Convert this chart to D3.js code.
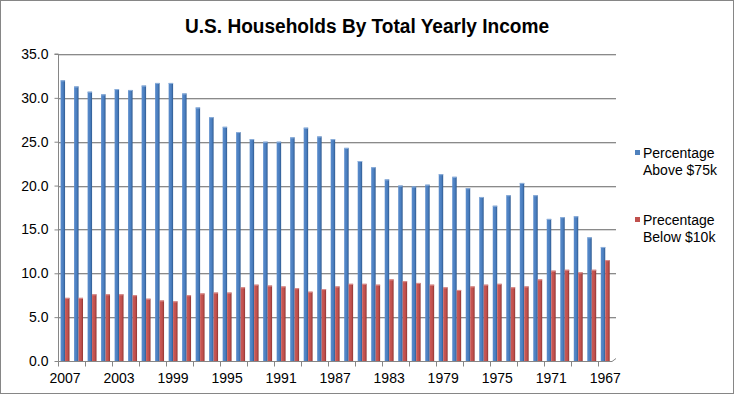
<!DOCTYPE html>
<html><head><meta charset="utf-8">
<script src="https://cdn.jsdelivr.net/npm/d3@7"></script>
<style>
html,body{margin:0;padding:0;background:#fff;}
svg{display:block;font-family:"Liberation Sans",Arial,sans-serif;}
</style></head>
<body>
<svg id="c" width="734" height="394"></svg>
<script>
const years = [2007,2006,2005,2004,2003,2002,2001,2000,1999,1998,1997,1996,1995,1994,1993,1992,1991,1990,1989,1988,1987,1986,1985,1984,1983,1982,1981,1980,1979,1978,1977,1976,1975,1974,1973,1972,1971,1970,1969,1968,1967];
const above75k = [32.0,31.3,30.7,30.4,31.0,30.9,31.4,31.7,31.7,30.5,28.9,27.8,26.7,26.1,25.3,25.0,25.0,25.5,26.6,25.6,25.3,24.3,22.8,22.1,20.7,20.0,19.9,20.1,21.3,21.0,19.7,18.7,17.7,18.9,20.3,18.9,16.2,16.4,16.5,14.1,13.0];
const below10k = [7.2,7.2,7.6,7.6,7.6,7.5,7.1,6.9,6.8,7.5,7.7,7.8,7.8,8.4,8.7,8.6,8.5,8.3,7.9,8.2,8.5,8.8,8.8,8.7,9.3,9.1,8.9,8.7,8.4,8.1,8.5,8.7,8.8,8.4,8.5,9.3,10.3,10.4,10.1,10.4,11.5];
const seriesNames = [["Percentage","Above $75k"],["Precentage","Below $10k"]];
const yTicks = [0,5,10,15,20,25,30,35];
const xLabelYears = [2007,2003,1999,1995,1991,1987,1983,1979,1975,1971,1967];
const title = "U.S. Households By Total Yearly Income";

const svg = d3.select("#c");
const L = 58.3, R = 612, GR = 616, T = 54, B = 361;

// border
svg.append("rect").attr("x",0.5).attr("y",0.5).attr("width",733).attr("height",393)
  .attr("fill","#fff").attr("stroke","#868686");

const defs = svg.append("defs");
function grad(id, c1, c2, c3){
  const g = defs.append("linearGradient").attr("id",id).attr("x1","0").attr("x2","1").attr("y1","0").attr("y2","0");
  g.append("stop").attr("offset","0").attr("stop-color",c1);
  g.append("stop").attr("offset","0.6").attr("stop-color",c2);
  g.append("stop").attr("offset","1").attr("stop-color",c3);
}
grad("gb","#5a8ccc","#4a7ebf","#2f5a8f");
grad("gr","#cc5a57","#c0504d","#8f3532");

const x = d3.scaleBand().domain(years).range([L,R]).padding(0);
const sub = d3.scaleBand().domain([0,1]).range([x.bandwidth()*0.17, x.bandwidth()*0.83]).padding(0);
const y = d3.scaleLinear().domain([0,35]).range([B,T]);

// gridlines
const g = svg.append("g");
yTicks.forEach(t=>{
  if(t===0) return;
  g.append("line").attr("x1",L).attr("x2",GR).attr("y1",Math.round(y(t))+1.5).attr("y2",Math.round(y(t))+1.5)
    .attr("stroke","#d9d9d9");
  g.append("line").attr("x1",L).attr("x2",GR).attr("y1",Math.round(y(t))+0.5).attr("y2",Math.round(y(t))+0.5)
    .attr("stroke","#8a8a8a");
});

// bars
const series = [above75k, below10k];
const fills = ["url(#gb)","url(#gr)"];
series.forEach((vals,si)=>{
  svg.append("g").selectAll("rect").data(vals).join("rect")
    .attr("x",(d,i)=>x(years[i])+sub(si))
    .attr("width",sub.bandwidth())
    .attr("y",d=>y(d))
    .attr("height",d=>B-y(d))
    .attr("fill",fills[si]);
  svg.append("g").selectAll("rect").data(vals).join("rect")
    .attr("x",(d,i)=>x(years[i])+sub(si))
    .attr("width",sub.bandwidth())
    .attr("y",d=>y(d))
    .attr("height",1)
    .attr("fill",si===0?"#8fb1dc":"#dc8f8d");
});

// y axis
const yAxis = d3.axisLeft(y).tickValues(yTicks).tickFormat(d3.format(".1f")).tickSize(4).tickPadding(6);
const ya = svg.append("g").attr("transform",`translate(${Math.round(L)+0.5},0)`).call(yAxis);
ya.select(".domain").attr("stroke","#868686").attr("d",`M-4,${T}H0V${B}`);
ya.selectAll(".tick line").attr("stroke","#868686");
ya.selectAll(".tick text").attr("font-size",14).attr("fill","#000").attr("font-family","Liberation Sans, Arial, sans-serif");

// x axis
const xa = svg.append("g").attr("transform",`translate(0,${B+0.5})`);
xa.append("line").attr("x1",L).attr("x2",R).attr("stroke","#868686");
xa.append("line").attr("x1",R).attr("x2",GR).attr("y1",0).attr("y2",-3).attr("stroke","#868686");
years.forEach((yr,i)=>{
  if(i%2===0){
    const xx = Math.round(x(yr))+0.5;
    xa.append("line").attr("x1",xx).attr("x2",xx).attr("y1",0).attr("y2",5).attr("stroke","#868686");
  }
});
xa.selectAll("text.xl").data(xLabelYears).join("text").attr("class","xl")
  .attr("x",d=>x(d)+x.bandwidth()/2)
  .attr("y",21).attr("text-anchor","middle").attr("font-size",14).attr("fill","#000")
  .text(d=>d);

// title
svg.append("text").attr("x",367).attr("y",33).attr("text-anchor","middle")
  .attr("font-size",20).attr("font-weight","bold").attr("fill","#000")
  .attr("textLength",364).attr("lengthAdjust","spacingAndGlyphs").text(title);

// legend
const lg = svg.append("g");
const legY = [158, 225];
const legC = ["#4f81bd","#c0504d"];
seriesNames.forEach((nm,i)=>{
  lg.append("rect").attr("x",635).attr("y",legY[i]-8).attr("width",5).attr("height",5).attr("fill",legC[i]);
  nm.forEach((t,j)=>{
    lg.append("text").attr("x",643).attr("y",legY[i]+j*17).attr("font-size",14).attr("fill","#000").text(t);
  });
});
</script>
</body></html>
